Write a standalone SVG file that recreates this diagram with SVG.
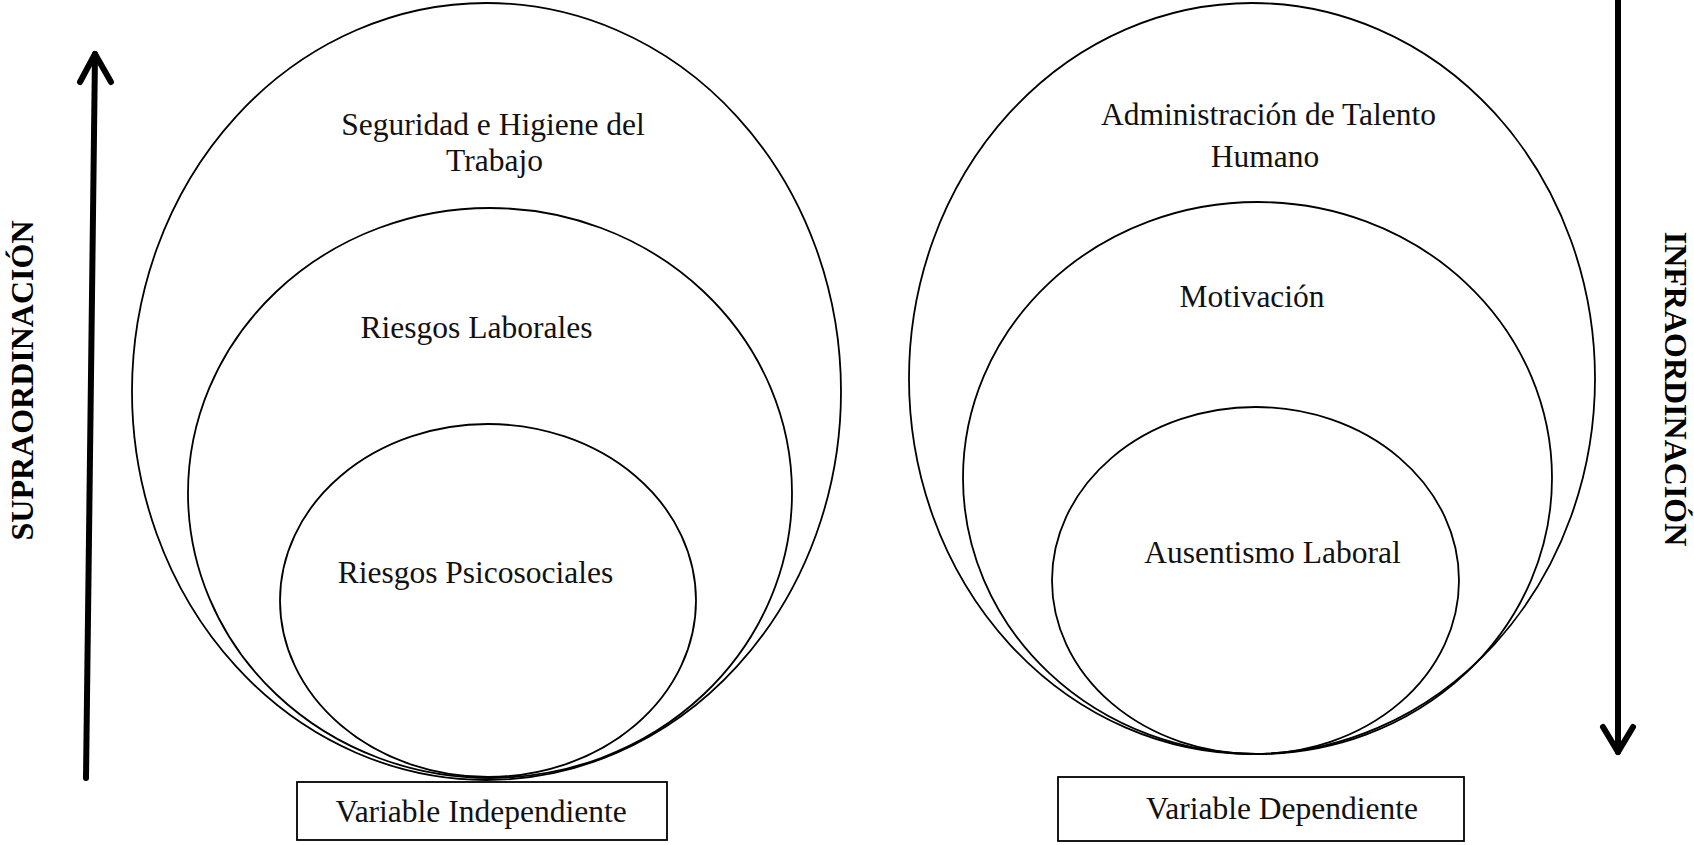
<svg xmlns="http://www.w3.org/2000/svg" width="1694" height="845" viewBox="0 0 1694 845">
<style>
.ring{fill:none;stroke:#000;stroke-width:1.8}
.box{fill:#fff;stroke:#000;stroke-width:1.8}
.lbl{font-family:"Liberation Serif","Times New Roman",serif;font-size:31.5px;fill:#111;text-anchor:middle}
.axis{font-family:"Liberation Serif","Times New Roman",serif;font-size:32px;font-weight:bold;fill:#000;text-anchor:middle}
.arr{fill:none;stroke:#000;stroke-width:6;stroke-linecap:round;stroke-linejoin:round}
</style>
<rect width="1694" height="845" fill="#fff"/>
<g id="connectors">
  <g id="arrow-supra">
    <line class="arr" x1="86" y1="778" x2="95" y2="54"/>
    <polyline class="arr" points="80,82 95,54 111,82"/>
  </g>
  <g id="arrow-infra">
    <line class="arr" x1="1618" y1="0" x2="1618" y2="752"/>
    <polyline class="arr" points="1603,727 1618,752 1633,727"/>
  </g>
</g>
<g id="label-supra"><text class="axis" transform="translate(33,380.5) rotate(-90)">SUPRAORDINACIÓN</text></g>
<g id="label-infra"><text class="axis" transform="translate(1665,389) rotate(90)">INFRAORDINACIÓN</text></g>
<g id="node-seguridad">
  <ellipse class="ring" cx="486.5" cy="391.5" rx="354.5" ry="388.5"/>
  <text class="lbl" x="493" y="135">Seguridad e Higiene del</text>
  <text class="lbl" x="494.5" y="171">Trabajo</text>
</g>
<g id="node-riesgos-laborales">
  <ellipse class="ring" cx="490" cy="493" rx="302" ry="285"/>
  <text class="lbl" x="476.5" y="338">Riesgos Laborales</text>
</g>
<g id="node-riesgos-psicosociales">
  <ellipse class="ring" cx="488" cy="600.5" rx="208" ry="176.5"/>
  <text class="lbl" x="475.5" y="583">Riesgos Psicosociales</text>
</g>
<g id="node-var-independiente">
  <rect class="box" x="297" y="782" width="370" height="58"/>
  <text class="lbl" x="481" y="822">Variable Independiente</text>
</g>
<g id="node-talento">
  <ellipse class="ring" cx="1252" cy="378.5" rx="343" ry="375.5"/>
  <text class="lbl" x="1268.5" y="125">Administración de Talento</text>
  <text class="lbl" x="1265" y="167">Humano</text>
</g>
<g id="node-motivacion">
  <ellipse class="ring" cx="1257.5" cy="478" rx="294.5" ry="276"/>
  <text class="lbl" x="1252" y="307">Motivación</text>
</g>
<g id="node-ausentismo">
  <ellipse class="ring" cx="1255.5" cy="580.5" rx="203.5" ry="173.5"/>
  <text class="lbl" x="1272.5" y="563">Ausentismo Laboral</text>
</g>
<g id="node-var-dependiente">
  <rect class="box" x="1058" y="777" width="406" height="64"/>
  <text class="lbl" x="1282" y="819">Variable Dependiente</text>
</g>
</svg>
